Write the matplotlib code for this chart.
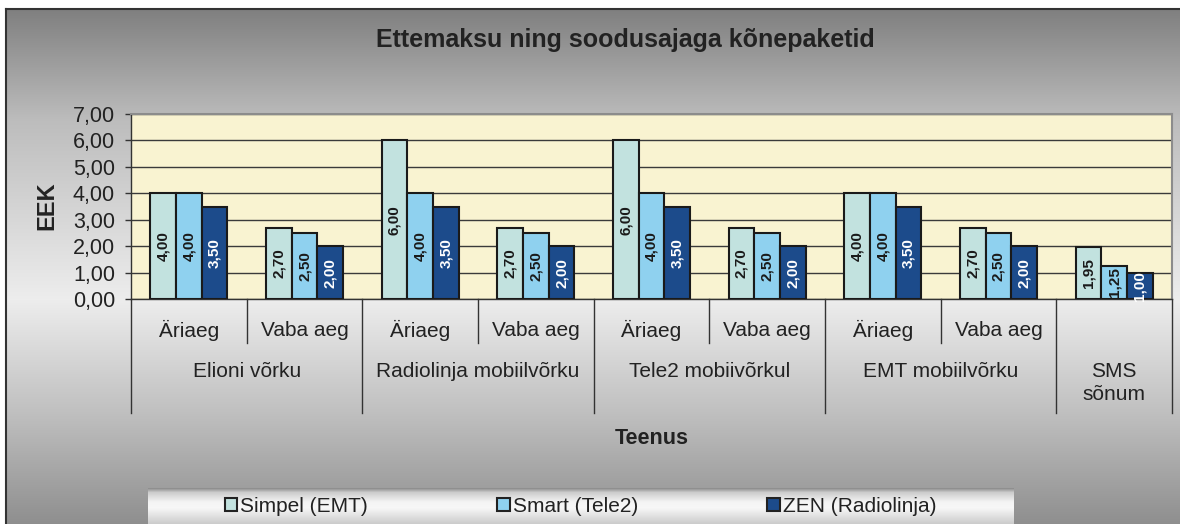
import numpy as np
import matplotlib
matplotlib.use("Agg")
import matplotlib.pyplot as plt
from matplotlib.patches import Patch
from matplotlib.lines import Line2D
import matplotlib.transforms as mtransforms

plt.rcParams['font.family'] = ['Liberation Sans', 'DejaVu Sans']

# data
series = ["Simpel (EMT)", "Smart (Tele2)", "ZEN (Radiolinja)"]
simpel = [4.00, 2.70, 6.00, 2.70, 6.00, 2.70, 4.00, 2.70, 1.95]
smart = [4.00, 2.50, 4.00, 2.50, 4.00, 2.50, 4.00, 2.50, 1.25]
zen = [3.50, 2.00, 3.50, 2.00, 3.50, 2.00, 3.50, 2.00, 1.00]
sub_labels = ["Äriaeg", "Vaba aeg"] * 4 + [""]
group_labels = ["Elioni võrku", "Radiolinja mobiilvõrku", "Tele2 mobiivõrkul",
                "EMT mobiilvõrku", "SMS\nsõnum"]
group_sizes = [2, 2, 2, 2, 1]
yticks = [0, 1, 2, 3, 4, 5, 6, 7]
ytick_labels = ["0,00", "1,00", "2,00", "3,00", "4,00", "5,00", "6,00", "7,00"]

colors = ["#c2e2df", "#8fd1ef", "#1c4b8b"]
label_colors = ["#1a1a1a", "#1a1a1a", "white"]

W, H = 1180, 524
fig = plt.figure(figsize=(W / 100, H / 100), dpi=100)

# background gradient inside the outer frame
bg = fig.add_axes([6 / W, 0, 1 - 6 / W, 1 - 9 / H])
ys = np.arange(9, 525)
shade = np.interp(ys, [9, 120, 300, 420, 524], [0.50, 0.74, 0.93, 0.74, 0.56])
img = np.repeat(shade[:, None], 3, axis=1)[:, None, :]
bg.imshow(img, aspect='auto', extent=[0, 1, 0, 1], interpolation='bilinear')
bg.set_axis_off()
fig.add_artist(Line2D([6 / W, 1], [1 - 9 / H, 1 - 9 / H], color="#333333", lw=1.5))
fig.add_artist(Line2D([6 / W, 6 / W], [0, 1 - 9 / H], color="#333333", lw=1.5))

# main plot
ax = fig.add_axes([131 / W, 1 - 299 / H, (1172 - 131) / W, (299 - 114) / H])
ax.set_facecolor("#f9f3d1")
ax.set_xlim(0, 9)
ax.set_ylim(0, 7)
ax.set_axisbelow(True)
ax.yaxis.grid(True, color="#3a3a3a", lw=1)

x = np.arange(len(simpel)) + 0.5
bw = 0.222
for k, vals in enumerate([simpel, smart, zen]):
    pos = x + (k - 1) * bw
    ax.bar(pos, vals, width=bw, color=colors[k], edgecolor="#1a1a1a", lw=1.5, zorder=3)
    for p, v in zip(pos, vals):
        ax.text(p, v / 2, f"{v:.2f}".replace(".", ","), rotation=90, ha='center', va='center',
                fontsize=11, fontweight='bold', color=label_colors[k], zorder=4)

ax.set_xticks([])
ax.set_yticks(yticks)
ax.set_yticklabels(ytick_labels)
ax.tick_params(axis='y', direction='out', length=4.5, width=1, color="#333333",
               labelsize=15.5, labelcolor="#222222", pad=7)
for s in ["top", "right"]:
    ax.spines[s].set_color("#8c8c8c")
    ax.spines[s].set_linewidth(1.5)
for s in ["left", "bottom"]:
    ax.spines[s].set_color("#333333")
    ax.spines[s].set_linewidth(1)

# multi-level category axis
ph = 299 - 114
trans = mtransforms.blended_transform_factory(ax.transData, ax.transAxes)
inner_depth = (343 - 299) / ph
outer_depth = (413 - 299) / ph
edges = np.concatenate([[0], np.cumsum(group_sizes)])
for xe in range(10):
    d = outer_depth if xe in edges else inner_depth
    ax.plot([xe, xe], [0, -d], transform=trans, color="#333333", lw=1, clip_on=False)
for xi, lab in zip(x, sub_labels):
    ax.text(xi, -(330 - 299) / ph, lab, transform=trans, ha='center', va='center',
            fontsize=15, color="#222222")
for g, lab in enumerate(group_labels):
    gc = (edges[g] + edges[g + 1]) / 2
    ax.text(gc, -(362 - 299) / ph, lab, transform=trans, ha='center', va='top',
            fontsize=15, color="#222222", linespacing=1.25)

fig.text(625 / W, 1 - 40 / H, "Ettemaksu ning soodusajaga kõnepaketid", ha='center', va='center',
         fontsize=18, fontweight='bold', color="#222222")
fig.text(47 / W, 1 - 206 / H, "EEK", rotation=90, ha='center', va='center',
         fontsize=17, fontweight='bold', color="#222222")
fig.text(652 / W, 1 - 438 / H, "Teenus", ha='center', va='center',
         fontsize=15.5, fontweight='bold', color="#222222")

# legend band
lg = fig.add_axes([148 / W, 0, (1013 - 148) / W, (524 - 488) / H])
ly = np.arange(488, 525)
lshade = np.interp(ly, [488, 492, 502, 508, 524], [0.56, 0.80, 0.96, 0.97, 0.80])
limg = np.repeat(lshade[:, None], 3, axis=1)[:, None, :]
lg.imshow(limg, aspect='auto', extent=[0, 1, 0, 1], interpolation='bilinear')
lg.set_axis_off()
handles = [Patch(facecolor=c, edgecolor="#222222", lw=1.5) for c in colors]
lg.legend(handles, series, loc='center', ncol=3, frameon=False, fontsize=15,
          handlelength=0.6, handleheight=0.6, handletextpad=0.15, columnspacing=6.2,
          labelcolor="#222222", borderaxespad=0, borderpad=0)

fig.savefig("out.png", dpi=100)
